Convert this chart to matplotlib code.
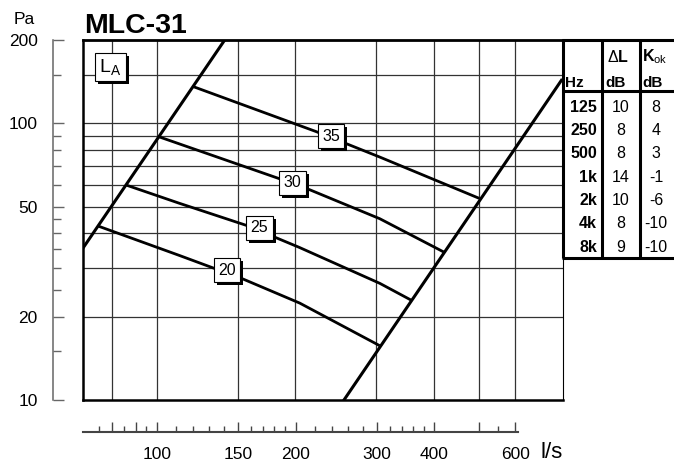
import matplotlib
matplotlib.use("Agg")
import matplotlib.pyplot as plt
from matplotlib.patches import Rectangle
from matplotlib.transforms import IdentityTransform
from matplotlib.ticker import FixedLocator, FixedFormatter, NullFormatter

plt.rcParams["font.family"] = ["Liberation Sans", "DejaVu Sans"]
plt.rcParams["mathtext.fontset"] = "custom"
plt.rcParams["mathtext.rm"] = "Liberation Sans"
plt.rcParams["mathtext.bf"] = "Liberation Sans:bold"
plt.rcParams["mathtext.it"] = "Liberation Sans:italic"

# --- data (flow in l/s, pressure in Pa) ---
flow_lims = (69.2, 762)
scale_flow_lims = (69.2, 607.6)
pa_lims = (10, 200)

# working range limits
left_edge_x = [69.2, 140.5]
left_edge_y = [35.4, 200]
right_edge_x = [255, 756]
right_edge_y = [10, 143]

# constant sound level curves L_A
la20_x = [75, 112, 153.7, 204.4, 303]
la20_y = [42.4, 33.3, 27.4, 22.4, 15.8]
la25_x = [86.4, 112, 157, 204, 305, 356]
la25_y = [59.6, 51.4, 42.7, 35.6, 26.4, 23.0]
la30_x = [101.5, 185, 215, 305, 418]
la30_y = [89.2, 63.0, 57.5, 45.2, 34.4]
la35_x = [120.5, 222, 305, 498]
la35_y = [135.4, 93.3, 75.5, 53.8]
la_levels = [20, 25, 30, 35]
la_label_x = [142, 167, 197, 239]
la_label_y = [29.4, 42.0, 60.9, 89.7]

grid_x = [80, 100, 150, 200, 300, 400, 500, 600]
grid_y = [20, 30, 40, 50, 60, 70, 80, 90, 100, 150]

y_major = [10, 20, 50, 100, 200]
y_minor = [15, 25, 30, 35, 40, 45, 60, 70, 80, 90, 150]
x_major = [80, 90, 100, 150, 200, 300, 400, 500, 600]
x_major_labels = ["", "", "100", "150", "200", "300", "400", "", "600"]
x_minor = [75, 85, 95, 110, 120, 130, 140, 160, 170, 180, 190,
           220, 240, 260, 280, 320, 340, 360, 380, 550]

# correction table
bands = ["125", "250", "500", "1k", "2k", "4k", "8k"]
delta_l = [10, 8, 8, 14, 10, 8, 9]
k_ok = [8, 4, 3, -1, -6, -10, -10]

W, H = 674, 465
fig = plt.figure(figsize=(W / 100, H / 100), dpi=100)

# main chart area
ax = fig.add_axes([83 / W, 1 - 400 / H, 480 / W, 360 / H])
ax.set_xscale("log")
ax.set_yscale("log")
ax.set_xlim(*flow_lims)
ax.set_ylim(*pa_lims)
ax.tick_params(which="both", length=0, labelbottom=False, labelleft=False)
for gx in grid_x:
    ax.axvline(gx, color="#333333", lw=0.9, zorder=1)
for gy in grid_y:
    ax.axhline(gy, color="#333333", lw=0.9, zorder=1)
ax.spines["top"].set_linewidth(2)
ax.spines["left"].set_linewidth(1.8)
ax.spines["bottom"].set_linewidth(1.8)
ax.spines["right"].set_linewidth(0.8)

ax.plot(left_edge_x, left_edge_y, color="k", lw=2.2, zorder=3)
ax.plot(right_edge_x, right_edge_y, color="k", lw=2.2, zorder=3)
for xs, ys in [(la20_x, la20_y), (la25_x, la25_y), (la30_x, la30_y), (la35_x, la35_y)]:
    ax.plot(xs, ys, color="k", lw=2.0, zorder=3)

# boxed labels
labels = []
for lvl, lx, ly in zip(la_levels, la_label_x, la_label_y):
    labels.append(ax.text(lx, ly, str(lvl), ha="center", va="center", fontsize=11.5, zorder=6,
                          bbox=dict(boxstyle="square,pad=0.28", fc="white", ec="black", lw=0.8)))
labels.append(ax.text(79.3, 160, r"$\mathregular{L_A}$", ha="center", va="center", fontsize=14,
                      zorder=6, bbox=dict(boxstyle="square,pad=0.22", fc="white", ec="black", lw=0.8)))

# left pressure scale
axl = fig.add_axes([53 / W, 1 - 400 / H, 0.0001, 360 / H])
axl.set_yscale("log")
axl.set_ylim(*pa_lims)
axl.patch.set_visible(False)
for s in ["top", "right", "bottom"]:
    axl.spines[s].set_visible(False)
axl.spines["left"].set_color("#666666")
axl.spines["left"].set_linewidth(1.1)
axl.set_xticks([])
axl.yaxis.set_major_locator(FixedLocator(y_major))
axl.yaxis.set_major_formatter(FixedFormatter([str(v) for v in y_major]))
axl.yaxis.set_minor_locator(FixedLocator(y_minor))
axl.yaxis.set_minor_formatter(NullFormatter())
axl.tick_params(axis="y", which="both", direction="in", color="#666666", width=1.0)
axl.tick_params(axis="y", which="major", length=8, labelsize=12.5, pad=11)
axl.tick_params(axis="y", which="minor", length=5.5)

# bottom flow scale
axx = fig.add_axes([83 / W, 1 - 432 / H, 435 / W, 0.0001])
axx.set_xscale("log")
axx.set_xlim(*scale_flow_lims)
axx.patch.set_visible(False)
for s in ["top", "right", "left"]:
    axx.spines[s].set_visible(False)
axx.spines["bottom"].set_color("#444444")
axx.spines["bottom"].set_linewidth(1.5)
axx.set_yticks([])
axx.xaxis.set_major_locator(FixedLocator(x_major))
axx.xaxis.set_major_formatter(FixedFormatter(x_major_labels))
axx.xaxis.set_minor_locator(FixedLocator(x_minor))
axx.xaxis.set_minor_formatter(NullFormatter())
axx.tick_params(axis="x", which="both", direction="in", color="#444444", width=1.0)
axx.tick_params(axis="x", which="major", length=7.5, labelsize=12.5, pad=11)
axx.tick_params(axis="x", which="minor", length=4.5)

fig.text(541 / W, 1 - 458 / H, "l/s", fontsize=16, va="baseline", ha="left")
fig.text(24 / W, 1 - 19 / H, "Pa", fontsize=12.5, ha="center", va="center")
fig.text(84 / W, 1 - 33 / H, "MLC-31", fontsize=20.5, fontweight="bold", va="baseline")

# correction table (figure pixel coordinates)
tab = fig.add_axes([0, 0, 1, 1])
tab.set_xlim(0, W)
tab.set_ylim(H, 0)
tab.axis("off")
lw_t = 2.2
for x in [563, 602, 639.5]:
    tab.plot([x, x], [39.5, 258], color="k", lw=lw_t, solid_capstyle="butt")
for y in [40, 91.5, 257.5]:
    tab.plot([562, W], [y, y], color="k", lw=lw_t, solid_capstyle="butt")

tab.text(607, 61.7, "\u0394", fontsize=11.5, ha="left", va="baseline")
tab.text(617.5, 61.7, "L", fontsize=11.5, fontweight="bold", ha="left", va="baseline")
tab.text(642, 61.7, r"$\mathbf{K}_{\mathrm{ok}}$", fontsize=11.5, ha="left", va="baseline")
tab.text(565, 86.7, "Hz", fontsize=11, fontweight="bold", ha="left", va="baseline")
tab.text(616, 86.7, "dB", fontsize=11, fontweight="bold", ha="center", va="baseline")
tab.text(653, 86.7, "dB", fontsize=11, fontweight="bold", ha="center", va="baseline")
for i, (b, d, k) in enumerate(zip(bands, delta_l, k_ok)):
    yb = 111.7 + 23.33 * i
    tab.text(597, yb, b, fontsize=11.5, fontweight="bold", ha="right", va="baseline")
    tab.text(620.5, yb, str(d), fontsize=11.5, ha="center", va="baseline")
    tab.text(656, yb, str(k), fontsize=11.5, ha="center", va="baseline")

# drop shadows behind the label boxes
fig.canvas.draw()
for t in labels:
    bb = t.get_bbox_patch().get_window_extent()
    ax.add_patch(Rectangle((bb.x0 + 3, bb.y0 - 3), bb.width, bb.height, transform=IdentityTransform(),
                           fc="black", ec="none", zorder=5, clip_on=False))

fig.savefig("out.png", dpi=100)
